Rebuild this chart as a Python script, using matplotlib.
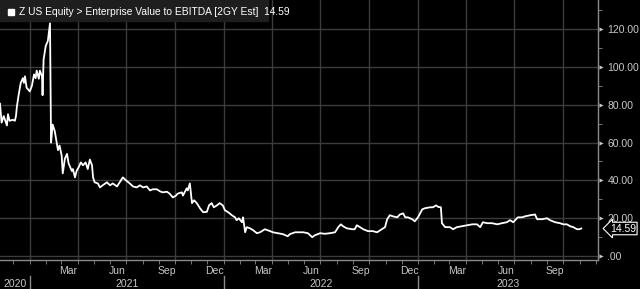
"""Bloomberg-style chart: Z US Equity EV/EBITDA (2GY est)."""

import matplotlib

matplotlib.use("Agg")
import matplotlib.dates as mdates
import matplotlib.pyplot as plt
import matplotlib.transforms as mtransforms
import pandas as pd
from matplotlib.patches import Rectangle

# ---- data ----
dates = [
    "2020-11-06", "2020-11-09", "2020-11-13", "2020-11-19", "2020-11-21", "2020-11-24",
    "2020-11-30", "2020-12-04", "2020-12-06", "2020-12-08", "2020-12-11", "2020-12-15",
    "2020-12-19", "2020-12-21", "2020-12-23", "2020-12-26", "2021-01-01", "2021-01-05",
    "2021-01-09", "2021-01-12", "2021-01-14", "2021-01-18", "2021-01-20", "2021-01-24",
    "2021-01-25", "2021-01-27", "2021-01-31", "2021-02-04", "2021-02-08", "2021-02-10",
    "2021-02-13", "2021-02-17", "2021-02-21", "2021-02-23", "2021-02-26", "2021-03-02",
    "2021-03-04", "2021-03-08", "2021-03-12", "2021-03-15", "2021-03-21", "2021-03-23",
    "2021-03-27", "2021-03-30", "2021-04-03", "2021-04-07", "2021-04-11", "2021-04-16",
    "2021-04-20", "2021-04-24", "2021-04-28", "2021-04-30", "2021-05-03", "2021-05-09",
    "2021-05-13", "2021-05-18", "2021-05-26", "2021-06-01", "2021-06-06", "2021-06-14",
    "2021-06-19", "2021-06-25", "2021-07-01", "2021-07-08", "2021-07-14", "2021-07-21",
    "2021-07-27", "2021-08-02", "2021-08-09", "2021-08-15", "2021-08-20", "2021-08-28",
    "2021-09-03", "2021-09-08", "2021-09-16", "2021-09-21", "2021-09-27", "2021-10-03",
    "2021-10-06", "2021-10-14", "2021-10-16", "2021-10-23", "2021-10-25", "2021-10-29",
    "2021-11-02", "2021-11-06", "2021-11-11", "2021-11-17", "2021-11-23", "2021-11-30",
    "2021-12-04", "2021-12-09", "2021-12-13", "2021-12-19", "2021-12-24", "2021-12-30",
    "2022-01-03", "2022-01-09", "2022-01-16", "2022-01-22", "2022-01-25", "2022-01-29",
    "2022-02-04", "2022-02-06", "2022-02-10", "2022-02-13", "2022-02-19", "2022-02-25",
    "2022-03-04", "2022-03-10", "2022-03-19", "2022-03-29", "2022-04-03", "2022-04-13",
    "2022-04-22", "2022-05-01", "2022-05-05", "2022-05-15", "2022-05-20", "2022-05-30",
    "2022-06-08", "2022-06-16", "2022-06-21", "2022-07-01", "2022-07-10", "2022-07-19",
    "2022-07-29", "2022-08-04", "2022-08-09", "2022-08-13", "2022-08-20", "2022-08-30",
    "2022-09-04", "2022-09-08", "2022-09-14", "2022-09-20", "2022-09-29", "2022-10-08",
    "2022-10-16", "2022-10-25", "2022-10-31", "2022-11-04", "2022-11-09", "2022-11-15",
    "2022-11-23", "2022-11-28", "2022-12-04", "2022-12-08", "2022-12-13", "2022-12-21",
    "2022-12-26", "2023-01-01", "2023-01-09", "2023-01-14", "2023-01-24", "2023-01-29",
    "2023-02-04", "2023-02-08", "2023-02-13", "2023-02-15", "2023-02-21", "2023-03-02",
    "2023-03-08", "2023-03-15", "2023-03-25", "2023-04-03", "2023-04-13", "2023-04-22",
    "2023-04-28", "2023-05-03", "2023-05-11", "2023-05-20", "2023-05-30", "2023-06-08",
    "2023-06-17", "2023-06-23", "2023-06-29", "2023-07-06", "2023-07-08", "2023-07-16",
    "2023-07-21", "2023-07-31", "2023-08-09", "2023-08-13", "2023-08-22", "2023-09-01",
    "2023-09-06", "2023-09-16", "2023-09-25", "2023-10-01", "2023-10-08", "2023-10-14",
    "2023-10-20", "2023-10-27", "2023-10-31", "2023-11-04",
]
ev_ebitda = [
    80.5, 70.5, 74.0, 69.0, 75.0, 71.5,
    72.0, 71.5, 74.0, 79.5, 85.0, 91.5,
    94.0, 91.5, 95.0, 89.0, 87.0, 90.0,
    96.0, 94.0, 98.0, 93.7, 98.0, 95.0,
    85.0, 104.0, 111.0, 113.7, 123.0, 60.0,
    69.5, 66.0, 59.5, 56.0, 58.4, 53.0,
    43.7, 51.5, 54.0, 49.0, 45.0, 46.0,
    41.6, 45.0, 47.0, 49.5, 48.0, 49.5,
    46.0, 51.0, 48.0, 41.6, 39.0, 38.4,
    36.3, 37.4, 39.0, 37.4, 38.4, 36.8,
    39.0, 41.6, 40.0, 38.4, 36.8, 36.3,
    37.4, 36.3, 36.8, 34.7, 35.3, 35.3,
    34.2, 33.7, 34.0, 33.0, 31.0, 32.0,
    33.0, 33.7, 32.0, 35.8, 34.7, 38.4,
    28.0, 29.5, 28.0, 25.3, 23.2, 23.4,
    26.8, 28.0, 25.8, 26.8, 28.0, 26.8,
    24.2, 23.2, 21.6, 20.5, 19.0, 20.0,
    17.9, 20.5, 12.6, 15.3, 14.7, 13.7,
    12.1, 12.6, 14.2, 13.2, 12.6, 12.1,
    11.6, 10.5, 11.6, 12.6, 12.6, 12.6,
    12.1, 10.0, 11.0, 12.1, 11.8, 12.1,
    12.6, 15.3, 16.8, 15.8, 14.7, 14.2,
    14.2, 16.3, 15.3, 14.2, 13.2, 13.2,
    12.6, 14.2, 15.3, 19.5, 21.6, 21.0,
    20.5, 22.0, 22.6, 20.5, 20.5, 19.5,
    18.4, 20.5, 24.7, 25.3, 25.8, 25.8,
    26.8, 26.0, 25.8, 17.4, 15.3, 15.3,
    14.2, 15.3, 15.8, 16.3, 16.8, 16.8,
    15.3, 17.9, 17.4, 17.4, 16.8, 17.4,
    17.9, 19.0, 17.9, 20.0, 20.5, 20.5,
    21.0, 21.6, 22.0, 19.5, 19.5, 20.0,
    19.0, 17.9, 17.4, 16.8, 16.8, 15.8,
    15.3, 14.2, 14.2, 14.59,
]
last_value = 14.59
title = "Z US Equity > Enterprise Value to EBITDA [2GY Est]  14.59"
y_ticks = [0, 20, 40, 60, 80, 100, 120]
y_minor = [10, 30, 50, 70, 90, 110, 130]
month_labels = ["Mar", "Jun", "Sep", "Dec"]
years = [2020, 2021, 2022, 2023]

# ---- styling ----
BG = "black"
GRID = "#3c3c3c"
AXIS = "#8a8a8a"
TXT = "#c8c8c8"
FONT = ["Liberation Sans Narrow", "Liberation Sans", "DejaVu Sans"]

plt.rcParams["font.family"] = FONT

x = pd.to_datetime(dates)
x_start = pd.Timestamp("2020-11-06")
x_end = pd.Timestamp("2023-12-05")

fig = plt.figure(figsize=(6.4, 2.89), dpi=100, facecolor=BG)
ax = fig.add_axes([0.0, 0.10, 0.934, 0.90], facecolor=BG)

ax.set_xlim(x_start, x_end)
ax.set_ylim(-2.1, 135.3)

# grid
for v in y_ticks:
    ax.axhline(v, color=GRID, lw=1.0, zorder=1)
for q in pd.date_range("2021-01-01", x_end, freq="QS"):
    ax.axvline(q, color=GRID, lw=1.0, zorder=1)

ax.plot(x, ev_ebitda, color="white", lw=1.3, zorder=3)

# spines
for s in ["left", "top"]:
    ax.spines[s].set_visible(False)
for s in ["right", "bottom"]:
    ax.spines[s].set_color(AXIS)
    ax.spines[s].set_linewidth(1.0)

# right axis ticks
ax.yaxis.tick_right()
ax.set_yticks(y_ticks)
ax.set_yticklabels([".00" if v == 0 else f"{v:.2f}" for v in y_ticks])
ax.set_yticks(y_minor, minor=True)
ax.tick_params(axis="y", which="major", length=0, pad=7, labelsize=7.5, labelcolor=TXT)
ax.tick_params(axis="y", which="minor", length=3, color=AXIS, direction="out")
ytrans = mtransforms.blended_transform_factory(ax.transAxes, ax.transData)
ax.plot([1.006] * len(y_ticks), y_ticks, ">", ms=3, color=TXT, mec="none",
        transform=ytrans, clip_on=False)

# bottom axis: monthly ticks, labels mid-month for Mar/Jun/Sep/Dec
label_pos = [d + pd.Timedelta(days=14) for d in pd.date_range("2021-01-01", x.max(), freq="MS")
             if d.strftime("%b") in month_labels]
ax.set_xticks(label_pos)
ax.set_xticklabels([d.strftime("%b") for d in label_pos])
ax.xaxis.set_minor_locator(mdates.MonthLocator())
ax.tick_params(axis="x", which="major", length=0, pad=4, labelsize=7.5, labelcolor=TXT)
ax.tick_params(axis="x", which="minor", length=3, color=AXIS, direction="out")

# year row
xtrans = mtransforms.blended_transform_factory(ax.transData, ax.transAxes)
for yr in years:
    lo = max(pd.Timestamp(f"{yr}-01-01"), x_start)
    hi = min(pd.Timestamp(f"{yr + 1}-01-01"), x_end)
    ax.text(lo + (hi - lo) / 2, -0.092, str(yr), transform=xtrans, ha="center",
            va="center", fontsize=7.5, color=TXT)
    if yr > years[0]:
        ax.plot([lo, lo], [-0.062, -0.12], color=AXIS, lw=1.0,
                transform=xtrans, clip_on=False)

# last value tag
ax.annotate(f"{last_value:.2f}", xy=(1.0, last_value), xycoords=ytrans,
            xytext=(1.02, last_value), textcoords=ytrans, va="center", ha="left",
            fontsize=7.5, color="white", annotation_clip=False,
            bbox=dict(boxstyle="larrow,pad=0.12", fc="black", ec="white", lw=0.8))

# title box
fig.patches.append(Rectangle((0, 1 - 21 / 289), 268 / 640, 21 / 289,
                             transform=fig.transFigure, color="#1e1e1e", zorder=5))
fig.patches.append(Rectangle((8 / 640, 1 - 15 / 289), 6 / 640, 6 / 289,
                             transform=fig.transFigure, color="white", zorder=6))
fig.text(19 / 640, 1 - 12 / 289, title, color="white", fontsize=7.4,
         va="center", ha="left", zorder=7)

fig.savefig("out.png", dpi=100, facecolor=BG)
